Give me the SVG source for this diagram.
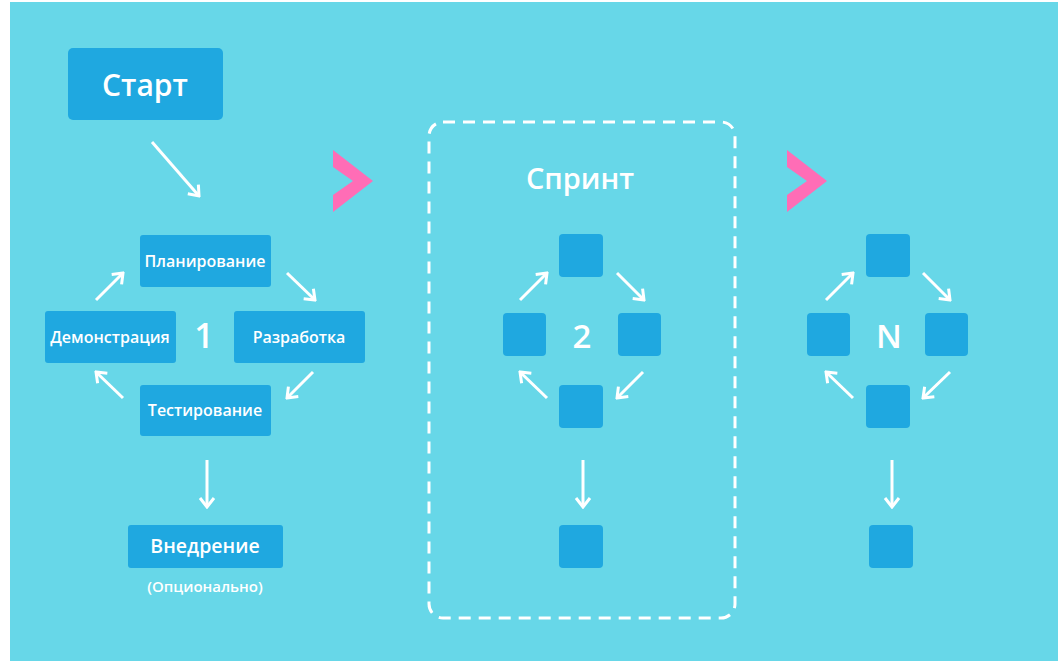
<svg xmlns="http://www.w3.org/2000/svg" width="1058" height="661" viewBox="0 0 1058 661">
<defs>
<marker id="ah" markerUnits="userSpaceOnUse" viewBox="-12 -9 14 18" markerWidth="14" markerHeight="18" refX="0" refY="0" orient="auto">
<path d="M-9,-7 L0,0 L-9,7" fill="none" stroke="#ffffff" stroke-width="3" stroke-linecap="butt" stroke-linejoin="miter"/>
</marker>
<style>
.box{fill:#1fa8e0}
.lbl{font-family:"Open Sans","Noto Sans","DejaVu Sans",sans-serif;font-weight:600;fill:#ffffff;text-anchor:middle}
.arr{stroke:#ffffff;stroke-width:3;fill:none;marker-end:url(#ah)}
.chev{fill:#ff6db6}
</style>
</defs>
<rect x="0" y="0" width="1058" height="661" fill="#ffffff"/>
<rect x="10" y="2" width="1048" height="659" fill="#67d7e8"/>

<g id="chevron1"><polygon class="chev" points="333,150 373,181 333,212 333,195 353,181 333,167"/></g>
<g id="chevron2"><polygon class="chev" points="787,150 827,181 787,212 787,195 807,181 787,167"/></g>

<g id="sprint-frame">
<rect x="429" y="122" width="306" height="496" rx="14" fill="none" stroke="#ffffff" stroke-width="3" stroke-dasharray="12 8"/>
<text class="lbl" x="580" y="189" font-size="29">Спринт</text>
</g>

<g id="start"><rect class="box" x="68" y="48" width="155" height="72" rx="5"/><text class="lbl" x="145" y="96" font-size="30">Старт</text></g>
<g id="plan"><rect class="box" x="140" y="235" width="131" height="52" rx="3"/><text class="lbl" x="205" y="267" font-size="16">Планирование</text></g>
<g id="demo"><rect class="box" x="45" y="311" width="131" height="52" rx="3"/><text class="lbl" x="110" y="343" font-size="16">Демонстрация</text></g>
<g id="dev"><rect class="box" x="234" y="311" width="131" height="52" rx="3"/><text class="lbl" x="299" y="343" font-size="16">Разработка</text></g>
<g id="test"><rect class="box" x="140" y="385" width="131" height="51" rx="3"/><text class="lbl" x="205" y="416" font-size="16">Тестирование</text></g>
<g id="num1"><text class="lbl" x="204" y="348" font-size="34">1</text></g>
<g id="deploy"><rect class="box" x="128" y="525" width="155" height="43" rx="3"/><text class="lbl" x="205" y="553" font-size="19.5">Внедрение</text></g>
<g id="optional"><text class="lbl" x="205" y="592" font-size="15">(Опционально)</text></g>

<g id="s-top"><rect class="box" x="559" y="234" width="44" height="43" rx="4"/></g>
<g id="s-left"><rect class="box" x="503" y="313" width="43" height="43" rx="4"/></g>
<g id="s-right"><rect class="box" x="618" y="313" width="43" height="43" rx="4"/></g>
<g id="s-bottom"><rect class="box" x="559" y="385" width="44" height="43" rx="4"/></g>
<g id="s-end"><rect class="box" x="559" y="525" width="44" height="43" rx="4"/></g>
<g id="num2"><text class="lbl" x="582" y="348" font-size="33">2</text></g>

<g id="n-top"><rect class="box" x="866" y="234" width="44" height="43" rx="4"/></g>
<g id="n-left"><rect class="box" x="807" y="313" width="43" height="43" rx="4"/></g>
<g id="n-right"><rect class="box" x="925" y="313" width="43" height="43" rx="4"/></g>
<g id="n-bottom"><rect class="box" x="866" y="385" width="44" height="43" rx="4"/></g>
<g id="n-end"><rect class="box" x="869" y="525" width="44" height="43" rx="4"/></g>
<g id="numN"><text class="lbl" x="889" y="348" font-size="33">N</text></g>

<g id="connectors">
<line class="arr" x1="152" y1="142" x2="199" y2="196"/>
<line class="arr" x1="96" y1="300" x2="123" y2="273"/>
<line class="arr" x1="287" y1="273" x2="315" y2="300"/>
<line class="arr" x1="313" y1="372" x2="287" y2="398"/>
<line class="arr" x1="123" y1="398" x2="96" y2="372"/>
<line class="arr" x1="207" y1="460" x2="207" y2="507"/>

<line class="arr" x1="520" y1="300" x2="547" y2="273"/>
<line class="arr" x1="617" y1="273" x2="644" y2="300"/>
<line class="arr" x1="643" y1="372" x2="617" y2="398"/>
<line class="arr" x1="547" y1="398" x2="520" y2="372"/>
<line class="arr" x1="583" y1="460" x2="583" y2="507"/>

<line class="arr" x1="826" y1="300" x2="853" y2="273"/>
<line class="arr" x1="923" y1="273" x2="950" y2="300"/>
<line class="arr" x1="950" y1="372" x2="923" y2="398"/>
<line class="arr" x1="853" y1="398" x2="826" y2="372"/>
<line class="arr" x1="892" y1="460" x2="892" y2="507"/>
</g>
</svg>
